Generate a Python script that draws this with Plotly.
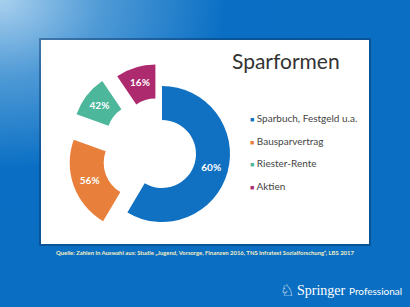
import base64
import plotly.graph_objects as go

# ---- data ----
labels = ["Sparbuch, Festgeld u.a.", "Bausparvertrag", "Riester-Rente", "Aktien"]
percent_values = [60, 56, 42, 16]            # printed values
slice_share_pct = [58.5, 22, 10, 9.5]        # angular size of each slice as drawn
pull_fraction = [0, 0.38, 0.40, 0.33]
colors = ["#1070c2", "#e8803c", "#4cb79b", "#ad2a6e"]
title_text = "Sparformen"
source_text = ("Quelle: Zahlen in Auswahl aus: Studie \u201eJugend, Vorsorge, Finanzen 2016, "
               "TNS Infratest Sozialforschung\u201c, LBS 2017")

W, H = 410, 307

def px(x):
    return x / W

def py(y):
    return 1 - y / H

# background gradient as inline SVG image
svg = f"""<svg xmlns='http://www.w3.org/2000/svg' width='{W}' height='{H}'>
<defs><radialGradient id='g' cx='0' cy='0' r='1.0' gradientUnits='objectBoundingBox'>
<stop offset='0' stop-color='#a9d0ee'/>
<stop offset='0.25' stop-color='#4f9ad6'/>
<stop offset='0.55' stop-color='#0a6fc4'/>
<stop offset='1' stop-color='#0a6ec2'/>
</radialGradient></defs>
<rect width='{W}' height='{H}' fill='url(#g)'/></svg>"""
svg_uri = "data:image/svg+xml;base64," + base64.b64encode(svg.encode()).decode()

fig = go.Figure()

fig.add_trace(go.Pie(
    labels=labels,
    values=slice_share_pct,
    text=[f"{v}%" for v in percent_values],
    textinfo="text",
    textposition="inside",
    insidetextorientation="horizontal",
    textfont=dict(family="Lato", size=10, color="white", weight="bold"),
    marker=dict(colors=colors, line=dict(width=0)),
    hole=0.5,
    pull=pull_fraction,
    sort=False,
    direction="clockwise",
    rotation=0,
    domain=dict(x=[px(162 - 95.2), px(162 + 95.2)], y=[py(154 + 95.2), py(154 - 95.2)]),
    showlegend=False,
    hoverinfo="label+text",
))

shapes = [
    # card shadow
    dict(type="rect", xref="paper", yref="paper", layer="below",
         x0=px(39), x1=px(371), y0=py(246), y1=py(38),
         fillcolor="rgba(10,50,100,0.45)", line=dict(width=0)),
    # white card
    dict(type="rect", xref="paper", yref="paper", layer="below",
         x0=px(41), x1=px(369), y0=py(244), y1=py(40),
         fillcolor="white", line=dict(width=0)),
]

annotations = [
    dict(text=title_text, x=px(286), y=py(61), xref="paper", yref="paper",
         showarrow=False, xanchor="center", yanchor="middle",
         font=dict(family="Lato", size=21, color="#333333")),
    dict(text=source_text, x=px(205), y=py(252.5), xref="paper", yref="paper",
         showarrow=False, xanchor="center", yanchor="middle",
         font=dict(family="Lato", size=5.9, color="#f3efc4", weight="bold")),
    dict(text="\u2658", x=px(287), y=py(290), xref="paper", yref="paper",
         showarrow=False, xanchor="center", yanchor="middle",
         font=dict(family="DejaVu Sans", size=16, color="white")),
    dict(text="Springer", x=px(295), y=py(290), xref="paper", yref="paper",
         showarrow=False, xanchor="left", yanchor="middle",
         font=dict(family="Liberation Serif", size=14, color="white")),
    dict(text="Professional", x=px(404), y=py(290.5), xref="paper", yref="paper",
         showarrow=False, xanchor="right", yanchor="middle",
         font=dict(family="Lato", size=10, color="white")),
]

# legend built as text annotations
for i, (lab, col) in enumerate(zip(labels, colors)):
    yy = 118 + i * 22.6
    annotations.append(dict(
        text=f"<span style='color:{col};font-size:7px'>\u25A0</span> {lab}",
        x=px(248), y=py(yy), xref="paper", yref="paper",
        showarrow=False, xanchor="left", yanchor="middle",
        font=dict(family="Lato", size=10, color="#444444")))

fig.update_layout(
    width=W, height=H,
    margin=dict(l=0, r=0, t=0, b=0),
    paper_bgcolor="#0a6ec2",
    plot_bgcolor="rgba(0,0,0,0)",
    images=[dict(source=svg_uri, xref="paper", yref="paper", x=0, y=1,
                 sizex=1, sizey=1, xanchor="left", yanchor="top",
                 sizing="stretch", layer="below")],
    shapes=shapes,
    annotations=annotations,
)

fig.write_html(
    "out.html",
    config={"displayModeBar": False},
    post_script="document.body.style.margin='0';document.body.style.overflow='hidden';",
)
